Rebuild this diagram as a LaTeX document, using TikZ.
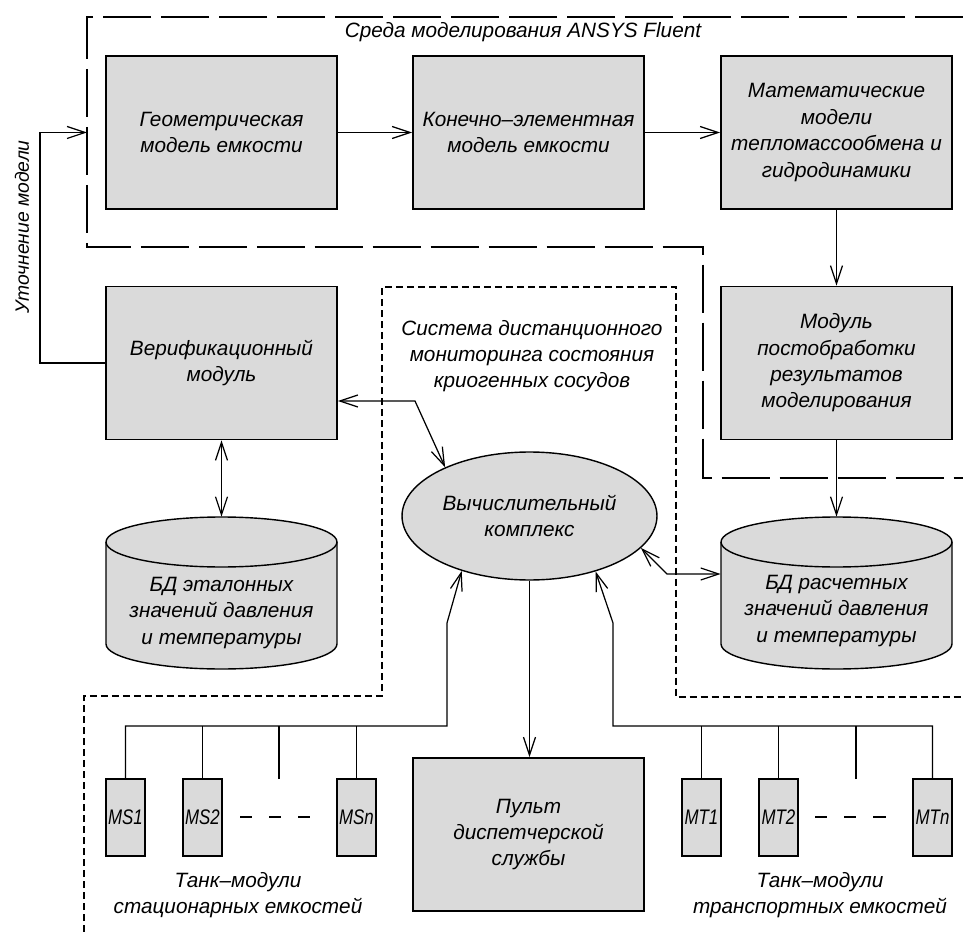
\documentclass[tikz,border=0pt]{standalone}
\usepackage{fontspec}
\setmainfont{Liberation Sans}
\newfontfamily\narrowfont[FakeStretch=0.8]{Liberation Sans}
\usetikzlibrary{arrows.meta,shapes.geometric,calc}
\definecolor{boxfill}{RGB}{218,218,218}
\begin{document}
\begin{tikzpicture}[x=0.02cm,y=-0.02cm,
  font=\itshape\fontsize{11.8}{15}\selectfont,
  blk/.style={draw,line width=1.1pt,fill=boxfill,minimum width=4.62cm,minimum height=3.06cm,inner sep=2pt,align=center},
  tank/.style={draw,line width=1.1pt,fill=boxfill,minimum width=0.78cm,minimum height=1.54cm,inner sep=0pt,font=\narrowfont\itshape\fontsize{12}{14}\selectfont},
  conn/.style={line width=0.7pt},
  arr/.style={conn,-{Straight Barb[length=0.36cm,width=0.24cm]}},
  darr/.style={conn,{Straight Barb[length=0.36cm,width=0.24cm]}-{Straight Barb[length=0.36cm,width=0.24cm]}},
  longdash/.style={line width=0.8pt,dash pattern=on 0.96cm off 0.2cm},
  shortdash/.style={line width=0.8pt,dash pattern=on 0.14cm off 0.08cm},
  cyl/.style={draw,line width=0.8pt,fill=boxfill},
  lbl/.style={align=center,inner sep=0pt}]
\useasboundingbox (0,0) rectangle (963,932);

% boundaries
\draw[longdash] (963,17) -- (87,17) -- (87,247) -- (703,247) -- (703,478) -- (963,478);
\draw[shortdash] (84,932) -- (84,696) -- (382,696) -- (382,287) -- (676,287) -- (676,697) -- (963,697);

% boxes
\node[blk] (geom) at (221.5,132.5) {Геометрическая\\модель емкости};
\node[blk] (fe) at (528.5,132.5) {Конечно–элементная\\модель емкости};
\node[blk] (math) at (836.5,132.5) {Математические\\модели\\тепломассообмена и\\гидродинамики};
\node[blk] (verif) at (221.5,363) {Верификационный\\модуль};
\node[blk] (post) at (836.5,363) {Модуль\\постобработки\\результатов\\моделирования};
\node[blk] (pult) at (528.5,834.5) {Пульт\\диспетчерской\\службы};
\node[ellipse,draw,line width=0.8pt,fill=boxfill,minimum width=5.1cm,minimum height=2.56cm,inner sep=0pt,align=center] (vk) at (529.5,516) {Вычислительный\\комплекс};

% cylinders
\node[minimum width=4.62cm,minimum height=3.04cm,inner sep=0pt] (bd1) at (221.5,593) {};
\node[minimum width=4.62cm,minimum height=3.04cm,inner sep=0pt] (bd2) at (836.5,593) {};
\draw[cyl] (106,542) -- (106,644) arc[start angle=180,end angle=360,x radius=2.31cm,y radius=0.5cm] -- (337,542) arc[start angle=0,end angle=180,x radius=2.31cm,y radius=0.5cm] -- cycle;
\draw[line width=0.8pt] (106,542) arc[start angle=180,end angle=360,x radius=2.31cm,y radius=0.5cm];
\draw[cyl] (721,542) -- (721,644) arc[start angle=180,end angle=360,x radius=2.31cm,y radius=0.5cm] -- (952,542) arc[start angle=0,end angle=180,x radius=2.31cm,y radius=0.5cm] -- cycle;
\draw[line width=0.8pt] (721,542) arc[start angle=180,end angle=360,x radius=2.31cm,y radius=0.5cm];
\node[lbl] (bd1t) at (221.5,613) {БД эталонных\\значений давления\\и температуры};
\node[lbl] (bd2t) at (836.5,611) {БД расчетных\\значений давления\\и температуры};

% tanks
\node[tank] (ms1) at (125.5,817.5) {MS1};
\node[tank] (ms2) at (202.5,817.5) {MS2};
\node[tank] (msn) at (356.5,817.5) {MSn};
\node[tank] (mt1) at (701.5,817.5) {MT1};
\node[tank] (mt2) at (778.5,817.5) {MT2};
\node[tank] (mtn) at (932.5,817.5) {MTn};

% labels
\node[lbl] (ansyslab) at (523,32) {Среда моделирования ANSYS Fluent};
\node[lbl] (monlab) at (532,356) {Система дистанционного\\мониторинга состояния\\криогенных сосудов};
\node[lbl] (mslab) at (238,895) {Танк–модули\\стационарных емкостей};
\node[lbl] (mtlab) at (820,895) {Танк–модули\\транспортных емкостей};
\node[lbl,rotate=90,font=\itshape\fontsize{11}{13}\selectfont] (rlab) at (22,227) {Уточнение модели};

% connectors
\draw[arr] (geom) -- (fe);
\draw[arr] (fe) -- (math);
\draw[arr] (math) -- (post);
\draw[arr] (post) -- (bd2.north);
\draw[darr] (verif) -- (bd1.north);
\draw[arr] (vk.south) -- (vk.south |- pult.north);

\coordinate (rl) at (40,132.5);
\coordinate (ain) at (87,132.5);
\draw[arr] (verif.west) -| (rl) -- (ain);

\coordinate (vb) at (415,401);
\draw[darr] (verif.east |- vb) -- (vb) -- (vk.150);
\coordinate (bb) at (667,574);
\draw[darr] (vk.344) -- (bb) -- (bd2.west |- bb);

\coordinate (lup) at (447,623);
\coordinate (lbus) at (447,726);
\draw[arr] (ms1.north) |- (lbus) -- (lup) -- (vk.219);
\draw[conn] (ms2.north) -- (ms2.north |- lbus);
\draw[conn] (msn.north) -- (msn.north |- lbus);
\coordinate (msx) at (279,779);
\draw[conn] (msx) -- (msx |- lbus);

\coordinate (rup) at (613,623);
\coordinate (rbus) at (613,726);
\draw[arr] (mtn.north) |- (rbus) -- (rup) -- (vk.320);
\draw[conn] (mt1.north) -- (mt1.north |- rbus);
\draw[conn] (mt2.north) -- (mt2.north |- rbus);
\coordinate (mtx) at (856,779);
\draw[conn] (mtx) -- (mtx |- rbus);

% ellipsis dashes
\draw[conn] (240,817) -- (252,817) (269,817) -- (281,817) (298,817) -- (310,817);
\draw[conn] (815,817) -- (827,817) (844,817) -- (856,817) (873,817) -- (886,817);
\end{tikzpicture}
\end{document}
